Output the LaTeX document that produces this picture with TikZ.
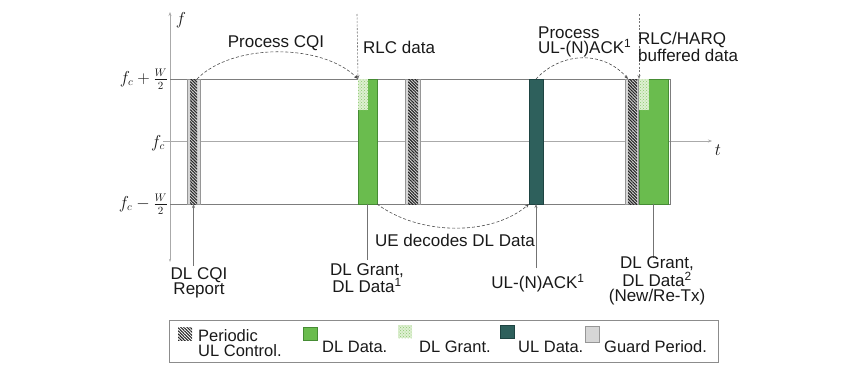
\documentclass[tikz,border=0pt]{standalone}
\usepackage[no-math]{fontspec}
\setmainfont{Liberation Sans}
\usetikzlibrary{patterns,patterns.meta,arrows.meta}
\definecolor{dlgreen}{RGB}{106,188,78}
\definecolor{dlgreendark}{RGB}{70,140,52}
\definecolor{uldata}{RGB}{46,96,92}
\definecolor{uldatadark}{RGB}{30,68,66}
\definecolor{guardgray}{RGB}{214,214,214}
\definecolor{guardedge}{RGB}{150,150,150}
\definecolor{grantlight}{RGB}{222,240,210}
\definecolor{grantdot}{RGB}{140,200,110}
\definecolor{linegray}{RGB}{125,125,125}
\definecolor{axisgray}{RGB}{170,170,170}
\definecolor{txt}{RGB}{25,25,25}
\tikzset{
  blk/.style={rectangle, inner sep=0pt, outer sep=0pt, minimum height=125pt, anchor=north west},
  guard/.style={blk, fill=guardgray, draw=guardedge, line width=0.4pt},
  hatch/.style={blk, pattern={Lines[angle=-45,distance=2.2pt,line width=1.1pt]}, pattern color=black!85},
  dldata/.style={blk, fill=dlgreen, draw=dlgreendark, line width=0.5pt},
  grant/.style={blk, minimum height=31pt, preaction={fill=grantlight}, pattern=crosshatch dots, pattern color=grantdot},
  uld/.style={blk, fill=uldata, draw=uldatadark, line width=0.5pt},
  axisline/.style={draw=axisgray, line width=0.6pt},
  frameline/.style={draw=linegray, line width=0.7pt},
  tip/.style={-{Stealth[length=4pt,width=3pt]}},
  dcurve/.style={draw=black!70, dash pattern=on 3pt off 2pt, line width=0.6pt, tip},
  dotv/.style={draw=black!55, dash pattern=on 2pt off 1.5pt, line width=0.6pt, tip},
  vline/.style={draw=black!55, line width=0.6pt},
  lbl/.style={font=\fontsize{17}{15.5}\selectfont, text=txt, inner sep=0pt},
  mlbl/.style={font=\fontsize{16}{18}\selectfont, text=txt, inner sep=0pt},
  legtxt/.style={font=\fontsize{16.5}{15}\selectfont, text=txt, inner sep=0pt},
  legicon/.style={rectangle, inner sep=0pt, outer sep=0pt, minimum width=14pt, minimum height=13pt, anchor=north west}
}
\begin{document}
\begin{tikzpicture}[x=1pt,y=-1pt]
\useasboundingbox (0,0) rectangle (862,386);
% axes
\draw[axisline, {Stealth[length=3pt,width=2pt]}-{Stealth[length=4pt,width=3pt]}] (170,262) -- (170,12);
\draw[axisline, -{Stealth[length=4pt,width=3pt]}] (163,141) -- (712,141);
\node[mlbl] (flab) at (181,20) {$f$};
\node[mlbl] (tlab) at (718,150) {$t$};
\node[mlbl, anchor=east] (fup) at (168,79) {$f_c+\frac{W}{2}$};
\node[mlbl, anchor=east] (fmid) at (165,143) {$f_c$};
\node[mlbl, anchor=east] (fdn) at (168,204) {$f_c-\frac{W}{2}$};
% frame
\draw[frameline] (170,79) -- (670,79) -- (670,204) -- (170,204);
% blocks
\node[guard, minimum width=13pt] (g1) at (187,79) {};
\node[hatch, minimum width=7pt] (h1) at (190,79) {};
\node[dldata, minimum width=19pt] (d1) at (358,79) {};
\node[grant, minimum width=10pt] (gr1) at (358,79) {};
\node[guard, minimum width=15pt] (g2) at (405,79) {};
\node[hatch, minimum width=10pt] (h2) at (408,79) {};
\node[uld, minimum width=14pt] (u1) at (529,79) {};
\node[guard, minimum width=13pt] (g3) at (625,79) {};
\node[hatch, minimum width=9pt] (h3) at (628,79) {};
\node[dldata, minimum width=29pt] (d2) at (639,79) {};
\node[grant, minimum width=10pt] (gr2) at (639,79) {};
% top connectors
\draw[dcurve] (h1.north east) .. controls (232,43) and (322,43) .. (d1.north west);
\coordinate (rlc1) at (357,14);
\draw[dotv] (rlc1) -- (d1.north west);
\coordinate (rlc2) at (639,14);
\draw[dotv] (rlc2) -- (d2.north west);
\draw[dcurve] (u1.north) .. controls (562,51) and (604,51) .. (h3.north west);
\draw[dcurve] (d1.south east) .. controls (420,236) and (492,236) .. (u1.south west);
% bottom lines
\coordinate (cqiEnd) at (193.5,266);
\draw[vline, tip] (cqiEnd) -- (h1.south);
\coordinate (dl1End) at (367.5,260);
\draw[vline] (d1.south) -- (dl1End);
\coordinate (ackEnd) at (536,268);
\draw[vline, tip] (ackEnd) -- (u1.south);
\coordinate (dl2End) at (653.5,258);
\draw[vline] (d2.south) -- (dl2End);
% labels
\node[lbl] (pcqi) at (276,43) {Process CQI};
\node[lbl, anchor=west] (rlcd) at (363,47) {RLC data};
\node[lbl, anchor=west, align=left] (pack) at (538,42) {Process\\UL-(N)ACK\textsuperscript{1}};
\node[lbl, anchor=west, align=left] (rlch) at (638,47) {RLC/HARQ\\buffered data};
\node[lbl] (ued) at (455,240) {UE decodes DL Data};
\node[lbl, align=center] (cqil) at (199,283) {DL CQI\\Report};
\node[lbl, align=center] (dg1) at (367,278) {DL Grant,\\DL Data\textsuperscript{1}};
\node[lbl] (ackl) at (538,283) {UL-(N)ACK\textsuperscript{1}};
\node[lbl, align=center] (dg2) at (657,281) {DL Grant,\\DL Data\textsuperscript{2}\\(New/Re-Tx)};
% legend
\node[draw=black!45, line width=0.6pt, rectangle, inner sep=0pt, minimum width=549pt, minimum height=42pt, anchor=north west] (leg) at (169,320) {};
\node[legicon, pattern={Lines[angle=-45,distance=2.2pt,line width=1.1pt]}, pattern color=black!85] (i1) at (178,327) {};
\node[legtxt, anchor=west, align=left] (t1) at (198,343) {Periodic\\UL Control.};
\node[legicon, fill=dlgreen, draw=dlgreendark] (i2) at (303,327) {};
\node[legtxt, anchor=base west] (t2) at (322,352) {DL Data.};
\node[legicon, preaction={fill=grantlight}, pattern=crosshatch dots, pattern color=grantdot] (i3) at (398,325) {};
\node[legtxt, anchor=base west] (t3) at (419,352) {DL Grant.};
\node[legicon, fill=uldata, draw=uldatadark] (i4) at (500,325) {};
\node[legtxt, anchor=base west] (t4) at (518,352) {UL Data.};
\node[legicon, fill=guardgray, draw=guardedge, minimum height=16pt] (i5) at (585,326) {};
\node[legtxt, anchor=base west] (t5) at (604,352) {Guard Period.};
\end{tikzpicture}
\end{document}
